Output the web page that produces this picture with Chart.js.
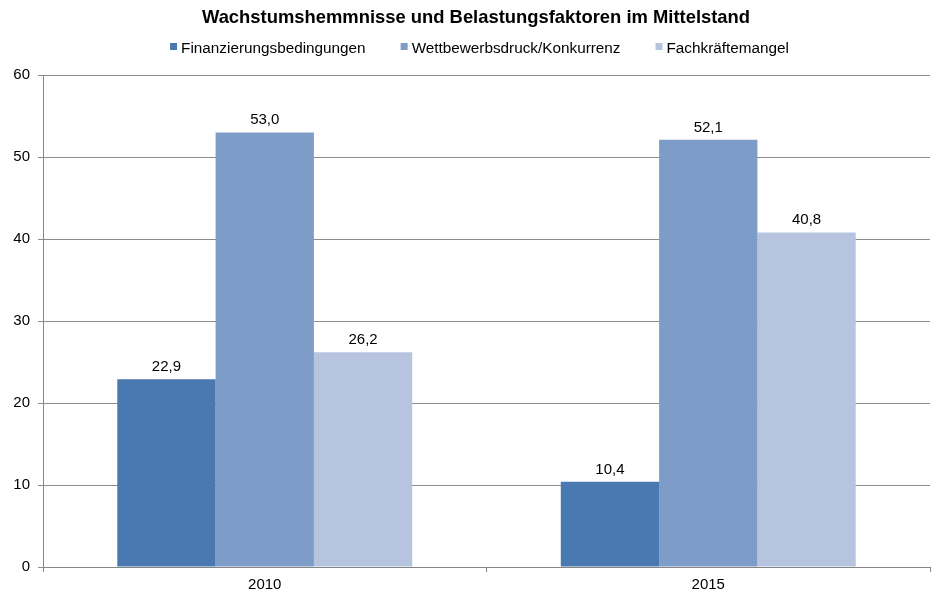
<!DOCTYPE html>
<html>
<head>
<meta charset="utf-8">
<script src="https://cdn.jsdelivr.net/npm/chart.js@4/dist/chart.umd.min.js"></script>
<style>
html,body{margin:0;padding:0;background:#fff;}
#wrap{width:931px;height:594px;}
</style>
</head>
<body>
<div id="wrap"><canvas id="c" width="931" height="594"></canvas></div>
<script>
const categories = ['2010', '2015'];
const finanzierung = [22.9, 10.4];
const wettbewerb = [53.0, 52.1];
const fachkraefte = [26.2, 40.8];
const seriesNames = ['Finanzierungsbedingungen', 'Wettbewerbsdruck/Konkurrenz', 'Fachkräftemangel'];
const yTicks = [0, 10, 20, 30, 40, 50, 60];
const titleText = 'Wachstumshemmnisse und Belastungsfaktoren im Mittelstand';

const FONT = "'Liberation Sans', Arial, sans-serif";
const colors = ['#4A78B0', '#7E9CC8', '#B6C4DF'];

const labelPlugin = {
  id: 'valueLabels',
  afterDatasetsDraw(chart) {
    const ctx = chart.ctx;
    ctx.save();
    ctx.font = '15px ' + FONT;
    ctx.fillStyle = '#000';
    ctx.textAlign = 'center';
    ctx.textBaseline = 'alphabetic';
    chart.data.datasets.forEach((ds, i) => {
      const meta = chart.getDatasetMeta(i);
      meta.data.forEach((bar, j) => {
        const v = ds.data[j];
        ctx.fillText(v.toFixed(1).replace('.', ','), bar.x, bar.y - 8);
      });
    });
    ctx.restore();
  }
};

const headerPlugin = {
  id: 'header',
  afterDraw(chart) {
    const ctx = chart.ctx;
    ctx.save();
    // title
    ctx.font = 'bold 18.4px ' + FONT;
    ctx.fillStyle = '#000';
    ctx.textAlign = 'center';
    ctx.textBaseline = 'alphabetic';
    ctx.fillText(titleText, 476, 23);
    // legend
    ctx.font = '15.3px ' + FONT;
    ctx.textAlign = 'left';
    const box = 7, gapBox = 4, gapItem = 35;
    const widths = chart.data.datasets.map(ds => ctx.measureText(ds.label).width);
    let total = 0;
    widths.forEach((w, i) => { total += box + gapBox + w + (i < widths.length - 1 ? gapItem : 0); });
    let x = 479.5 - total / 2;
    chart.data.datasets.forEach((ds, i) => {
      ctx.fillStyle = ds.backgroundColor;
      ctx.fillRect(x, 43, box, box);
      ctx.fillStyle = '#000';
      ctx.fillText(ds.label, x + box + gapBox, 52.5);
      x += box + gapBox + widths[i] + gapItem;
    });
    ctx.restore();
  }
};

new Chart(document.getElementById('c'), {
  type: 'bar',
  data: {
    labels: categories,
    datasets: [
      { label: seriesNames[0], data: finanzierung, backgroundColor: colors[0] },
      { label: seriesNames[1], data: wettbewerb, backgroundColor: colors[1] },
      { label: seriesNames[2], data: fachkraefte, backgroundColor: colors[2] }
    ]
  },
  options: {
    responsive: false,
    animation: false,
    devicePixelRatio: 1,
    layout: { padding: { left: 0, right: 1, top: 75, bottom: 0 } },
    datasets: { bar: { categoryPercentage: 0.665, barPercentage: 1, borderWidth: 0 } },
    plugins: {
      title: { display: false },
      legend: { display: false },
      tooltip: { enabled: false }
    },
    scales: {
      x: {
        afterFit(scale) { scale.height = 27; },
        grid: { offset: true, drawOnChartArea: false, color: '#868686', tickLength: 5 },
        border: { color: '#868686' },
        ticks: { color: '#000', font: { family: FONT, size: 15 }, padding: 4 }
      },
      y: {
        min: 0, max: 60,
        afterBuildTicks(scale) { scale.ticks = yTicks.map(v => ({ value: v })); },
        afterFit(scale) { scale.width = 43; },
        grid: { color: '#8C8C8C', tickLength: 5 },
        border: { color: '#868686' },
        ticks: { color: '#000', font: { family: FONT, size: 15 }, padding: 8 }
      }
    }
  },
  plugins: [labelPlugin, headerPlugin]
});
</script>
</body>
</html>
